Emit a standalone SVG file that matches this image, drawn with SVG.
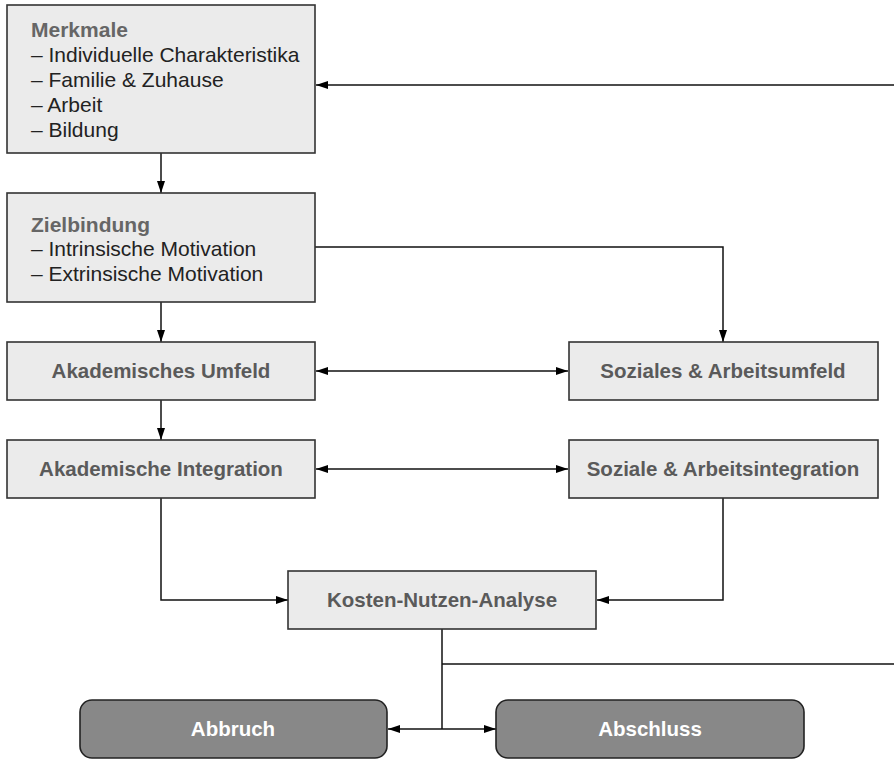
<svg xmlns="http://www.w3.org/2000/svg" width="894" height="759" viewBox="0 0 894 759">
<defs>
<style>
.box{fill:#ebebeb;stroke:#333;stroke-width:1.6}
.end{fill:#888;stroke:#222;stroke-width:1.6}
.hd{font-family:"Liberation Sans",Arial,sans-serif;font-weight:bold;font-size:21px;fill:#666}
.it{font-family:"Liberation Sans",Arial,sans-serif;font-size:21px;fill:#222}
.lb{font-family:"Liberation Sans",Arial,sans-serif;font-weight:bold;font-size:20.5px;fill:#5a5a5a;text-anchor:middle}
.lbw{font-family:"Liberation Sans",Arial,sans-serif;font-weight:bold;font-size:20.5px;fill:#fff;text-anchor:middle}
.ln{fill:none;stroke:#111;stroke-width:1.5}
</style>
<marker id="ah" viewBox="0 0 12 8" refX="12" refY="4" markerWidth="12" markerHeight="8" markerUnits="userSpaceOnUse" orient="auto-start-reverse">
<path d="M0,0 L12,4 L0,8 Z" fill="#000"/>
</marker>
</defs>
<g id="connectors">
<path class="ln" d="M161,153 V193" marker-end="url(#ah)"/>
<path class="ln" d="M894,85 H316" marker-end="url(#ah)"/>
<path class="ln" d="M315,247 H723 V342" marker-end="url(#ah)"/>
<path class="ln" d="M161,302 V342" marker-end="url(#ah)"/>
<path class="ln" d="M316,371 H568" marker-start="url(#ah)" marker-end="url(#ah)"/>
<path class="ln" d="M161,400 V440" marker-end="url(#ah)"/>
<path class="ln" d="M316,469 H568" marker-start="url(#ah)" marker-end="url(#ah)"/>
<path class="ln" d="M161,498 V600 H288" marker-end="url(#ah)"/>
<path class="ln" d="M723,498 V600 H597" marker-end="url(#ah)"/>
<path class="ln" d="M442,629 V729"/>
<path class="ln" d="M442,664 H894"/>
<path class="ln" d="M388,729 H496" marker-start="url(#ah)" marker-end="url(#ah)"/>
</g>
<g id="merkmale">
<rect class="box" x="7" y="5" width="308" height="148"/>
<text class="hd" x="31" y="37">Merkmale</text>
<text class="it" x="31" y="62">– Individuelle Charakteristika</text>
<text class="it" x="31" y="87">– Familie &amp; Zuhause</text>
<text class="it" x="31" y="112">– Arbeit</text>
<text class="it" x="31" y="137">– Bildung</text>
</g>
<g id="zielbindung">
<rect class="box" x="7" y="193" width="308" height="109"/>
<text class="hd" x="31" y="232">Zielbindung</text>
<text class="it" x="31" y="256">– Intrinsische Motivation</text>
<text class="it" x="31" y="281">– Extrinsische Motivation</text>
</g>
<g id="akademisches-umfeld">
<rect class="box" x="7" y="342" width="308" height="58"/>
<text class="lb" x="161" y="378">Akademisches Umfeld</text>
</g>
<g id="soziales-arbeitsumfeld">
<rect class="box" x="569" y="342" width="309" height="58"/>
<text class="lb" x="723" y="378">Soziales &amp; Arbeitsumfeld</text>
</g>
<g id="akademische-integration">
<rect class="box" x="7" y="440" width="308" height="58"/>
<text class="lb" x="161" y="476">Akademische Integration</text>
</g>
<g id="soziale-arbeitsintegration">
<rect class="box" x="569" y="440" width="309" height="58"/>
<text class="lb" x="723" y="476">Soziale &amp; Arbeitsintegration</text>
</g>
<g id="kosten-nutzen-analyse">
<rect class="box" x="288" y="571" width="308" height="58"/>
<text class="lb" x="442" y="607">Kosten-Nutzen-Analyse</text>
</g>
<g id="abbruch">
<rect class="end" x="80" y="700" width="307" height="58" rx="12"/>
<text class="lbw" x="233" y="736">Abbruch</text>
</g>
<g id="abschluss">
<rect class="end" x="496" y="700" width="308" height="58" rx="12"/>
<text class="lbw" x="650" y="736">Abschluss</text>
</g>
</svg>
